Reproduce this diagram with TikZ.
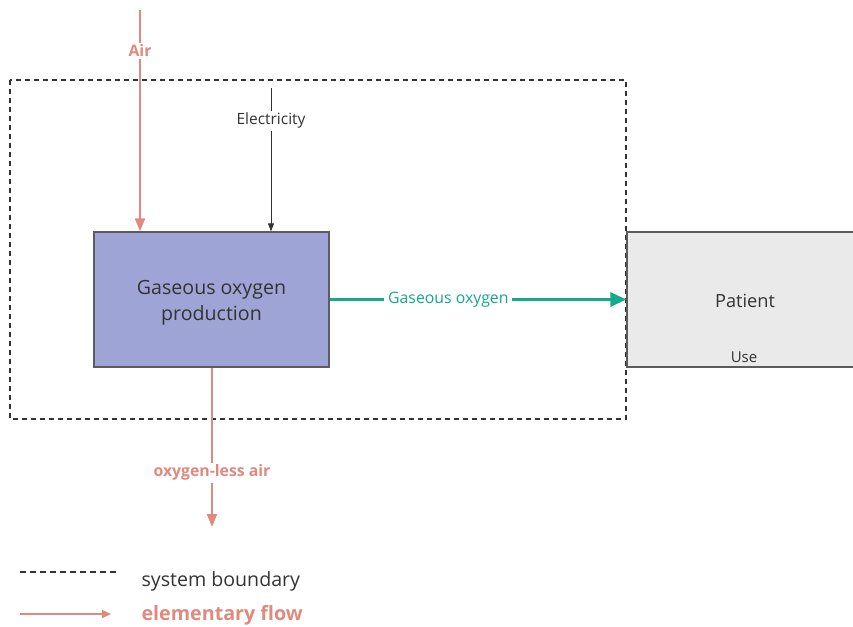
\documentclass[tikz,border=0pt]{standalone}
\usepackage{fontspec}
\setmainfont{Open Sans}
\usetikzlibrary{arrows.meta,positioning}

\definecolor{flussoel}{HTML}{E08A7E}
\definecolor{flussoox}{HTML}{14A98A}
\definecolor{processo}{HTML}{9EA4D6}
\definecolor{uso}{HTML}{EAEAEA}
\definecolor{testo}{HTML}{333333}

\tikzset{
  confine/.style={draw=testo, line width=1.2pt, dash pattern=on 5pt off 4pt},
  blocco/.style={draw=testo!80, line width=1.3pt, minimum width=235pt, minimum height=135pt, inner sep=0pt, text=testo},
  elementare/.style={draw=flussoel, line width=2pt, -{Triangle[length=13pt,width=10pt]}},
  etichetta/.style={fill=white, inner sep=2pt, font=\bfseries\fontsize{15.8}{18}\selectfont, text=flussoel},
}

\begin{document}
\begin{tikzpicture}[x=1pt,y=-1pt]

\useasboundingbox (0,0) rectangle (853,626);
\clip (0,0) rectangle (853,626);

% --- Confine del sistema ---
\draw[confine] (10,80) rectangle (626,419);

% --- Processi ---
\node[blocco, fill=processo] (produzione) at (211.5,299.5) {};
\node[text=testo, align=center, font=\fontsize{19.6}{26}\selectfont]
  (nomeprod) at (211.5,302.5) {Gaseous oxygen\\production};
\node[blocco, fill=uso, minimum width=240pt]
  (paziente) at (747,299.5) {};
\node[text=testo, font=\fontsize{18.2}{20}\selectfont] (nomepaz) at (745,301) {Patient};
\node[text=testo, font=\fontsize{15}{17}\selectfont] (usoetich) at (744,357.5) {Use};

% --- Flussi ---
\coordinate (aria) at (140,10);
\draw[elementare] (aria) -- (aria |- produzione.north)
  node[etichetta, pos=0.183] (etaria) {Air};

\coordinate (elettr) at (271,88);
\draw[draw=testo, line width=0.8pt, -{Triangle[length=8pt,width=6pt]}] (elettr) -- (elettr |- produzione.north)
  node[fill=white, inner sep=2pt, pos=0.23, text=testo, font=\fontsize{15.5}{18}\selectfont] (etelettr) {Electricity};

\draw[draw=flussoox, line width=3pt, -{Triangle[length=16pt,width=14pt]}] (produzione.east) -- (paziente.west)
  node[fill=white, inner sep=4pt, pos=0.4, text=flussoox, font=\fontsize{15.8}{18}\selectfont] (etox) {Gaseous oxygen};

\coordinate (scarico) at (212,527);
\draw[elementare] (produzione.south -| scarico) -- (scarico)
  node[etichetta, pos=0.66] (etscarico) {oxygen-less air};

% --- Legenda ---
\coordinate (leg1a) at (20,572);
\coordinate (leg1b) at (118,572);
\coordinate (leg2a) at (20,614);
\coordinate (leg2b) at (111,614);
\draw[confine, dash pattern=on 6pt off 4pt] (leg1a) -- (leg1b);
\draw[draw=flussoel, line width=1.5pt, -{Triangle[length=9pt,width=8pt]}] (leg2a) -- (leg2b);
\node[anchor=west, text=testo, font=\fontsize{19.6}{22}\selectfont] (legconf) at (138,581) {system boundary};
\node[anchor=west, text=flussoel, font=\bfseries\fontsize{19.7}{22}\selectfont] (legflusso) at (138,615) {elementary flow};

\end{tikzpicture}
\end{document}
